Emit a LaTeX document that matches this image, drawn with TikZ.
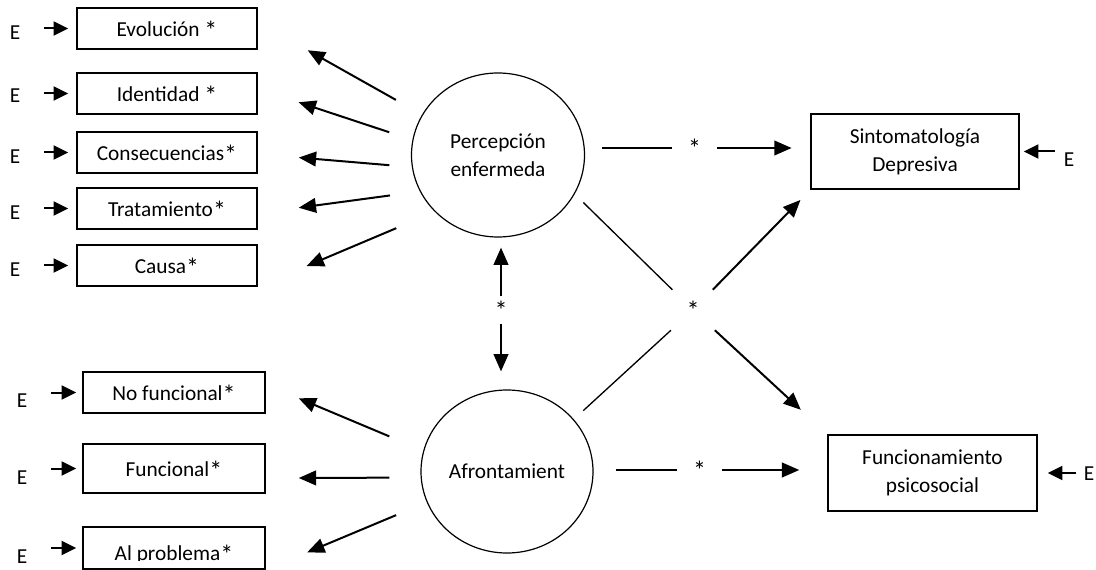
\documentclass[tikz,border=0pt]{standalone}
\usepackage{fontspec}
\setmainfont{Carlito}
\usepackage{tikz}
\usetikzlibrary{arrows.meta, shapes.geometric}
\newcommand{\starmark}{\raisebox{-2.5pt}{\fontsize{19.5}{19.5}\selectfont *}}

\begin{document}
\begin{tikzpicture}[x=0.75pt, y=-0.75pt,
    font=\fontsize{16}{21}\selectfont,
    box/.style={draw, line width=1.1pt, minimum width=135pt, minimum height=30.75pt, inner sep=0pt, text depth=0pt},
    latent/.style={draw, ellipse, line width=0.9pt, minimum width=129.75pt, minimum height=123pt, inner sep=0pt, align=center},
    result/.style={draw, line width=1.1pt, minimum width=156pt, minimum height=56.5pt, inner sep=0pt, align=center},
    elabel/.style={inner sep=0pt},
    sig/.style={inner sep=0pt, minimum width=33pt, minimum height=20pt},
    arr/.style={-{Triangle[length=13pt, width=11pt]}, line width=1.5pt},
    earr/.style={-{Triangle[length=11pt, width=10.5pt]}, line width=1.5pt, shorten <=18pt, shorten >=6pt},
    plain/.style={line width=1pt}]

\useasboundingbox (0,0) rectangle (1096,570);
\clip (0,0) rectangle (1096,570);

% Perception indicators
\node[box] (evol)  at (167,28.5)  {Evolución \starmark};
\node[box] (iden)  at (167,93.5)  {Identidad \starmark};
\node[box] (cons)  at (167,152.5) {Consecuencias\starmark};
\node[box] (trat)  at (167,208.5) {Tratamiento\starmark};
\node[box] (causa) at (167,265.5) {Causa\starmark};

% Coping indicators
\node[box, minimum width=136.5pt] (nofun) at (174,392.5) {No funcional\starmark};
\node[box, minimum width=136.5pt, minimum height=36.75pt] (fun) at (174,468.5) {Funcional\starmark};
\node[box, minimum width=136.5pt, minimum height=31.5pt] (alprob) at (174,548) {};
\begin{scope}
    \clip (alprob.north west) rectangle ([yshift=6.75pt]alprob.south east);
    \node[anchor=base, inner sep=0pt] (alprobtext) at (174,560) {Al problema\starmark};
\end{scope}

% Latent variables
\node[latent] (perc) at (498,155) {Percepción\\enfermeda};
\node[latent, minimum width=129pt, minimum height=122.25pt] (afront) at (507,471.5) {Afrontamient};

% Outcomes
\node[result] (sint) at (915,151.5) {Sintomatología\\Depresiva};
\node[result, minimum width=156.75pt, minimum height=57pt] (func) at (932.5,473) {Funcionamiento\\psicosocial};

% Error terms
\node[elabel] (e1) at (15,32.5) {E};
\node[elabel] (e2) at (15,96)   {E};
\node[elabel] (e3) at (15,157)  {E};
\node[elabel] (e4) at (15,213)  {E};
\node[elabel] (e5) at (15,270)  {E};
\node[elabel] (e6) at (22,401)  {E};
\node[elabel] (e7) at (22,478)  {E};
\node[elabel] (e8) at (22,557)  {E};
\node[elabel] (e9) at (1069,160) {E};
\node[elabel] (e10) at (1089,474) {E};

\draw[earr] (e1.east |- evol.west) -- (evol.west);
\draw[earr] (e2.east |- iden.west) -- (iden.west);
\draw[earr] (e3.east |- cons.west) -- (cons.west);
\draw[earr] (e4.east |- trat.west) -- (trat.west);
\draw[earr] (e5.east |- causa.west) -- (causa.west);
\draw[earr, shorten >=4.5pt] (e6.east |- nofun.west) -- (nofun.west);
\draw[earr, shorten >=4.5pt] (e7.east |- fun.west) -- (fun.west);
\draw[earr, shorten >=4.5pt] (e8.east |- alprob.west) -- (alprob.west);
\draw[earr, shorten <=6.4pt, shorten >=3pt] (e9.west |- sint.east) -- (sint.east);
\draw[earr, shorten <=5.6pt, shorten >=7.5pt] (e10.west |- func.east) -- (func.east);

% Loadings
\draw[arr, shorten <=22.5pt, shorten >=43pt] (perc.152) -- (evol.4);
\draw[arr, shorten <=18.3pt, shorten >=32.3pt] (perc.170) -- (iden.3);
\draw[arr, shorten <=16.9pt, shorten >=30.9pt] (perc.188) -- (cons.-1);
\draw[arr, shorten <=22.6pt, shorten >=31pt] (perc.205) -- (trat.-3);
\draw[arr, shorten <=31.4pt, shorten >=39.8pt] (perc.222) -- (causa.south east);
\draw[arr, shorten <=27.6pt, shorten >=26.8pt] (afront.166) -- (nofun.5);
\draw[arr, shorten <=23.5pt, shorten >=24.75pt] (afront.184) -- (fun.-6);
\draw[arr, shorten <=24.9pt, shorten >=33.7pt] (afront.201) -- (alprob.south east);

% Structural paths
\node[sig] (s1) at (694.5,148) {\starmark};
\node[sig] (s2) at (699.5,470) {\starmark};
\node[sig, minimum height=30pt] (sx) at (693,310) {\starmark};
\node[sig] (sv) at (501,310) {\starmark};

\draw[plain, shorten <=13pt] (perc.east |- s1) -- (s1);
\draw[arr, shorten >=14pt] (s1) -- (s1 -| sint.west);
\draw[plain, shorten <=16.5pt] (afront.east |- s2) -- (s2);
\draw[arr, shorten >=21pt] (s2) -- (s2 -| func.west);

\draw[plain, shorten <=9pt] (perc.-27) -- (sx);
\draw[arr, shorten >=27pt] (sx) -- (func.north west);
\draw[plain, shorten <=9.6pt] (afront.38) -- (sx);
\draw[arr, shorten >=10.5pt] (sx) -- (sint.south west);

\draw[arr, shorten >=7.5pt] (sv) -- (sv |- perc.south);
\draw[arr, shorten >=13.5pt] (sv) -- (sv |- afront.north);
\end{tikzpicture}
\end{document}
